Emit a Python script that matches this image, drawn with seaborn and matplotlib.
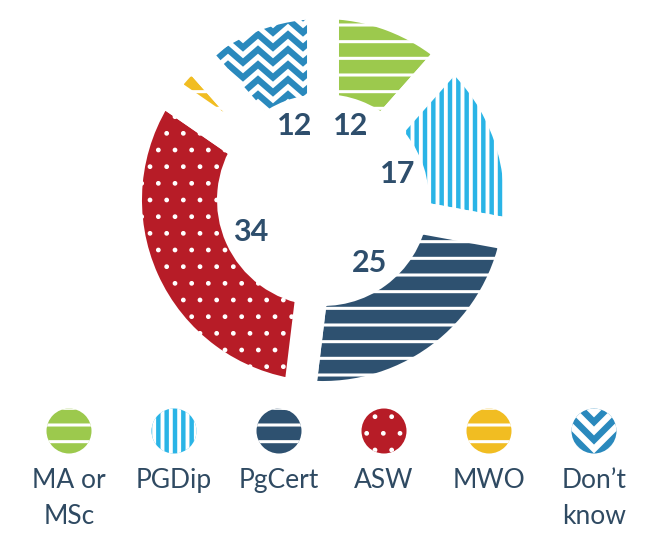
import numpy as np
import matplotlib
matplotlib.use('Agg')
import matplotlib.pyplot as plt
import seaborn as sns
from matplotlib.patches import Circle

# data
categories = ['MA or\nMSc', 'PGDip', 'PgCert', 'ASW', 'MWO', 'Don’t\nknow']
values = [12, 17, 25, 34, 4, 12]
value_labels = ['12', '17', '25', '34', '', '12']
colors = ['#9cc94d', '#2ab4e6', '#2e5170', '#b71c27', '#f1bd22', '#2a89bd']
hatches = ['-', '||', '-', '.', '-', '']
hatch_lw = [2.2, 2.8, 2.2, 1.0, 2.2, 2.2]

sns.set_theme(style='white')
plt.rcParams['font.family'] = ['Lato', 'DejaVu Sans']
plt.rcParams['hatch.linewidth'] = 2.2

fig = plt.figure(figsize=(6.62, 5.33), dpi=100)

# legend area in pixel coordinates
lax = fig.add_axes([0, 0, 1, 1])
lax.set_xlim(0, 662)
lax.set_ylim(533, 0)
lax.axis('off')

# donut
ax = fig.add_axes([123 / 662, 133 / 533, 400 / 662, 400 / 533])
wedges, texts = ax.pie(values, labels=value_labels, colors=colors, hatch=hatches,
                       startangle=90, counterclock=False, radius=0.985,
                       labeldistance=0.40,
                       wedgeprops=dict(width=0.535, edgecolor='white', linewidth=23),
                       textprops=dict(fontsize=22, fontweight='bold', color='#2e4e6c'))
for t in texts:
    t.set_ha('center')
    t.set_va('center')
for w, hl in zip(wedges, hatch_lw):
    if hasattr(w, 'set_hatch_linewidth'):
        w.set_hatch_linewidth(hl)
ax.set_xlim(-1, 1)
ax.set_ylim(-1, 1)

# zigzag pattern for "Don't know"
xs = np.arange(-1, 1.01, 0.075)
for yy in np.arange(-1, 1.05, 0.075):
    ys = yy + np.where(np.arange(len(xs)) % 2 == 0, 0, 0.065)
    line, = ax.plot(xs, ys, color='white', lw=3.6, solid_joinstyle='miter')
    line.set_clip_path(wedges[5])

# legend icons + labels
for i, (cat, col, h, hl) in enumerate(zip(categories, colors, hatches, hatch_lw)):
    x = 69 + 105 * i
    circ = Circle((x, 431), 22.5, facecolor=col, hatch=h, edgecolor='white', lw=0)
    if hasattr(circ, 'set_hatch_linewidth'):
        circ.set_hatch_linewidth(hl)
    lax.add_patch(circ)
    if h == '':
        for k in range(-3, 4):
            y0 = 431 + 18 * k
            ln, = lax.plot([x - 35, x, x + 35], [y0 - 35, y0, y0 - 35],
                           color='white', lw=4.5, solid_joinstyle='miter')
            ln.set_clip_path(circ)
    lax.text(x, 468, cat, ha='center', va='top', fontsize=19,
             color='#2f4a62', linespacing=1.55)

fig.savefig('out.png', dpi=100)
